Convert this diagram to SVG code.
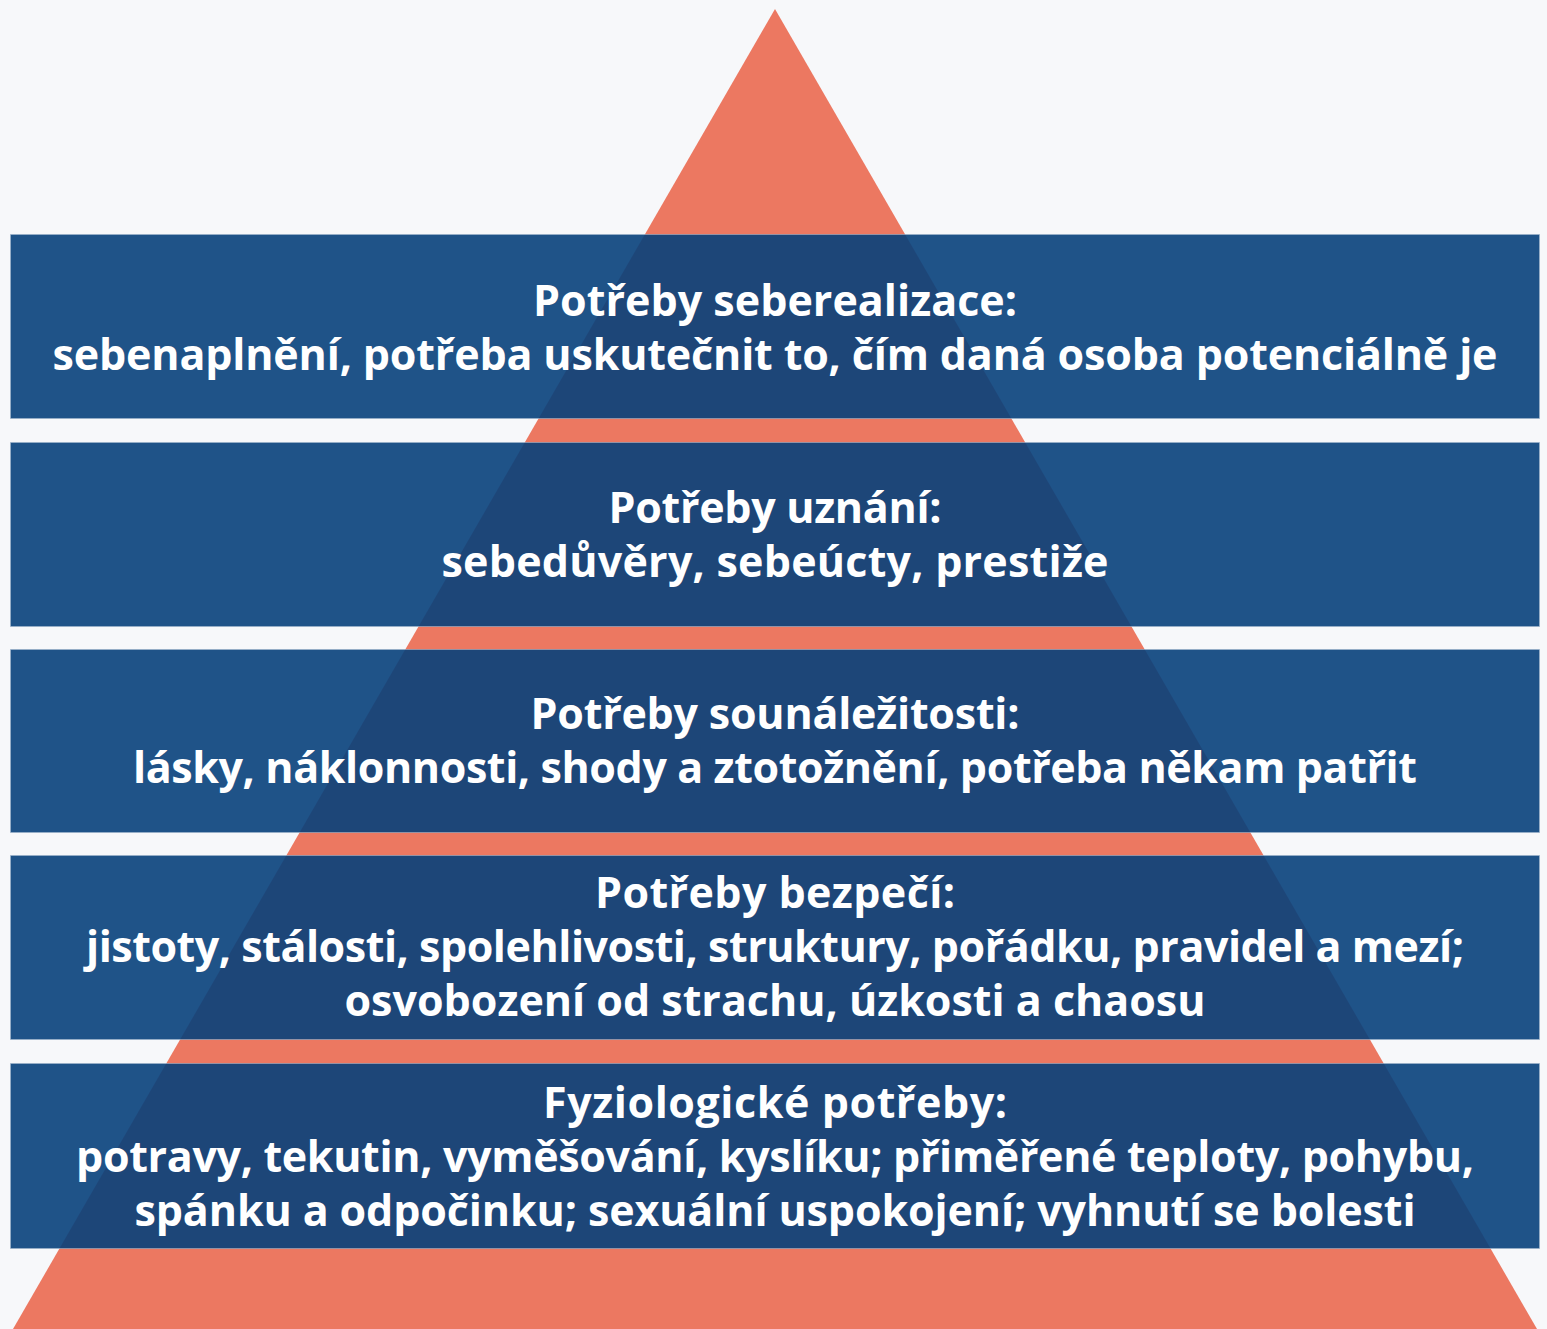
<svg xmlns="http://www.w3.org/2000/svg" width="1547" height="1329" viewBox="0 0 1547 1329">
<style>
.band{fill:rgb(7,64,123);fill-opacity:0.9;stroke:#9fb4cc;stroke-opacity:0.6;stroke-width:1}
.t{font-family:"Open Sans","Noto Sans",sans-serif;font-weight:bold;font-size:43px;fill:#ffffff;text-anchor:middle}
</style>
<rect width="1547" height="1329" fill="#f7f8fa"/>
<g id="pyramid"><polygon points="775,9 1537,1329 13,1329" fill="#ec7861"/></g>
<g id="connectors"></g>
<g id="level5">
<rect class="band" x="10.5" y="234.5" width="1529" height="184"/>
<text class="t" x="775" y="316" textLength="484" lengthAdjust="spacing">Potřeby seberealizace:</text>
<text class="t" x="775" y="370" textLength="1445" lengthAdjust="spacing">sebenaplnění, potřeba uskutečnit to, čím daná osoba potenciálně je</text>
</g>
<g id="level4">
<rect class="band" x="10.5" y="442.5" width="1529" height="184"/>
<text class="t" x="775" y="523" textLength="333" lengthAdjust="spacing">Potřeby uznání:</text>
<text class="t" x="775" y="577" textLength="667" lengthAdjust="spacing">sebedůvěry, sebeúcty, prestiže</text>
</g>
<g id="level3">
<rect class="band" x="10.5" y="649.5" width="1529" height="183"/>
<text class="t" x="775" y="729" textLength="489" lengthAdjust="spacing">Potřeby sounáležitosti:</text>
<text class="t" x="775" y="783" textLength="1284" lengthAdjust="spacing">lásky, náklonnosti, shody a ztotožnění, potřeba někam patřit</text>
</g>
<g id="level2">
<rect class="band" x="10.5" y="855.5" width="1529" height="184"/>
<text class="t" x="775" y="908" textLength="360" lengthAdjust="spacing">Potřeby bezpečí:</text>
<text class="t" x="775" y="962" textLength="1378" lengthAdjust="spacing">jistoty, stálosti, spolehlivosti, struktury, pořádku, pravidel a mezí;</text>
<text class="t" x="775" y="1016" textLength="861" lengthAdjust="spacing">osvobození od strachu, úzkosti a chaosu</text>
</g>
<g id="level1">
<rect class="band" x="10.5" y="1063.5" width="1529" height="185"/>
<text class="t" x="775" y="1118" textLength="464" lengthAdjust="spacing">Fyziologické potřeby:</text>
<text class="t" x="775" y="1172" textLength="1398" lengthAdjust="spacing">potravy, tekutin, vyměšování, kyslíku; přiměřené teploty, pohybu,</text>
<text class="t" x="775" y="1226" textLength="1281" lengthAdjust="spacing">spánku a odpočinku; sexuální uspokojení; vyhnutí se bolesti</text>
</g>
</svg>
